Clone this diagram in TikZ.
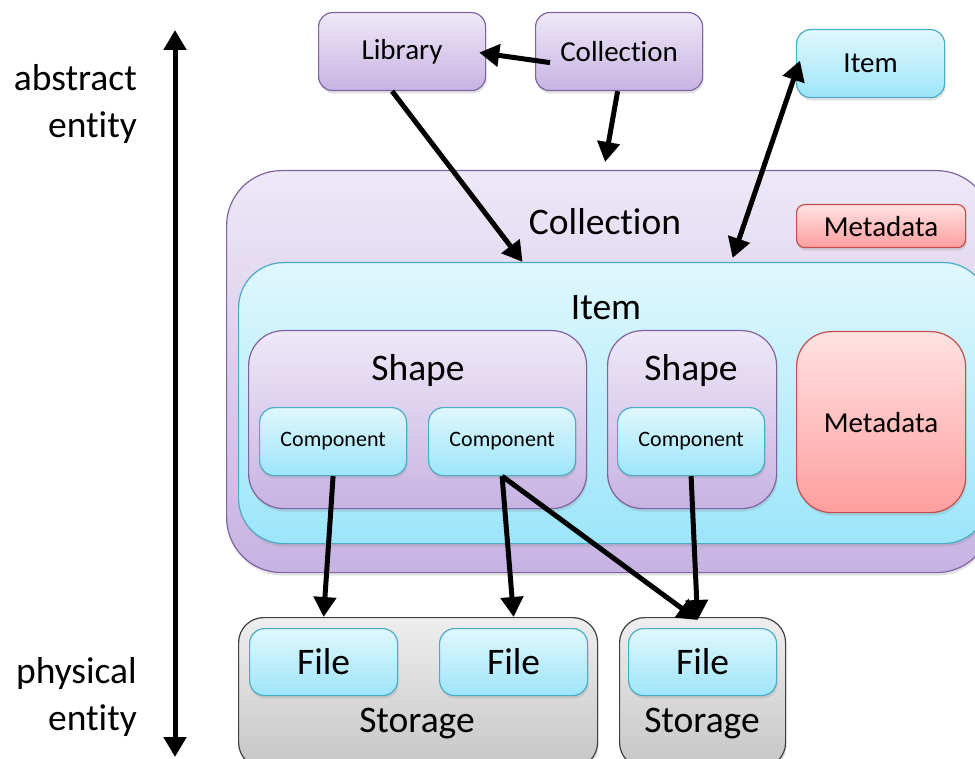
\documentclass[tikz,border=0pt]{standalone}
\usepackage{fontspec}
\setmainfont{Carlito}[Ligatures=CommonOff]
\usetikzlibrary{arrows.meta,shadows}

\definecolor{purpleline}{HTML}{8064A2}
\definecolor{purpletop}{HTML}{EEE8F7}
\definecolor{purplebot}{HTML}{C7B3E2}
\definecolor{cyanline}{HTML}{4BACC6}
\definecolor{cyantop}{HTML}{E0F7FD}
\definecolor{cyanbot}{HTML}{9DE5FA}
\definecolor{redline}{HTML}{C0504D}
\definecolor{redtop}{HTML}{FFE2E2}
\definecolor{redbot}{HTML}{FF9E9E}
\definecolor{greytop}{HTML}{EEEEEE}
\definecolor{greybot}{HTML}{C6C6C6}

\begin{document}
\begin{tikzpicture}[x=1pt,y=-1pt,>={Triangle[length=20pt,width=22pt]}]
	\tikzstyle{box}=[draw,line width=1.2pt,anchor=north west,inner sep=0pt,drop shadow={opacity=0.22,shadow xshift=1pt,shadow yshift=-3pt}]
	\tikzstyle{purple}=[box,draw=purpleline,top color=purpletop,bottom color=purplebot]
	\tikzstyle{cyan}=[box,draw=cyanline,top color=cyantop,bottom color=cyanbot]
	\tikzstyle{red}=[box,draw=redline,top color=redtop,bottom color=redbot]
	\tikzstyle{grey}=[box,draw=black!75,top color=greytop,bottom color=greybot]
	\tikzstyle{big}=[font=\fontsize{37.5}{47}\selectfont]
	\tikzstyle{mid}=[font=\fontsize{29}{35}\selectfont]
	\tikzstyle{small}=[font=\fontsize{22}{26}\selectfont]
	\tikzstyle{link}=[line width=5pt]

	\clip (0,0) rectangle (975,759);
	\useasboundingbox (0,0) rectangle (975,759);

	% axis
	\coordinate (abs) at (175,30);
	\coordinate (phys) at (175,757);
	\draw[link,<->] (abs) -- (phys);
	\node[big,anchor=base east,align=right,inner sep=0pt](abstract) at (137,138){abstract\\entity};
	\node[big,anchor=base east,align=right,inner sep=0pt](physical) at (137,730){physical\\entity};

	% top level
	\node[purple,mid,minimum width=167pt,minimum height=78pt,rounded corners=14pt](lib) at (318,12){Library};
	\node[purple,mid,minimum width=167pt,minimum height=78pt,rounded corners=14pt](ctop) at (535,12){Collection};
	\node[cyan,mid,minimum width=148pt,minimum height=68pt,rounded corners=14pt](itop) at (796,29){Item};

	% collection
	\node[purple,minimum width=765pt,minimum height=402pt,rounded corners=55pt](coll) at (226,170){};
	\node[big](colltitle) at (605,222){Collection};
	\node[red,mid,minimum width=169pt,minimum height=43pt,rounded corners=8pt](metasmall) at (796,204){Metadata};

	% item
	\node[cyan,minimum width=750pt,minimum height=281pt,rounded corners=45pt](item) at (238,262){};
	\node[big](itemtitle) at (606,308){Item};
	\node[purple,minimum width=338pt,minimum height=178pt,rounded corners=35pt](shapeA) at (248,330){};
	\node[big](shapeAtitle) at (418,371){Shape};
	\node[purple,minimum width=169pt,minimum height=178pt,rounded corners=35pt](shapeB) at (607,330){};
	\node[big](shapeBtitle) at (691,371){Shape};
	\node[red,mid,minimum width=169pt,minimum height=181pt,rounded corners=35pt](metabig) at (796,331){Metadata};

	\node[cyan,small,minimum width=147pt,minimum height=68pt,rounded corners=15pt](compA) at (259,407){Component};
	\node[cyan,small,minimum width=147pt,minimum height=68pt,rounded corners=15pt](compB) at (428,407){Component};
	\node[cyan,small,minimum width=147pt,minimum height=68pt,rounded corners=15pt](compC) at (617,407){Component};

	% storage
	\node[grey,minimum width=359pt,minimum height=150pt,rounded corners=25pt](storA) at (238,617){};
	\node[big](storAtitle) at (417,724){Storage};
	\node[grey,minimum width=166pt,minimum height=150pt,rounded corners=25pt](storB) at (619,617){};
	\node[big](storBtitle) at (702,724){Storage};

	\node[cyan,big,minimum width=148pt,minimum height=67pt,rounded corners=15pt](fileA) at (249,628){File};
	\node[cyan,big,minimum width=148pt,minimum height=67pt,rounded corners=15pt](fileB) at (439,628){File};
	\node[cyan,big,minimum width=148pt,minimum height=67pt,rounded corners=15pt](fileC) at (628,628){File};

	% links
	\draw[link,->] ([shift={(15,11)}]ctop.west) -- ([shift={(-7,1)}]lib.east);
	\draw[link,->] ([xshift=-10pt]lib.south) -- ([xshift=-91pt]item.north);
	\draw[link,->] ([xshift=-1.5pt]ctop.south) -- ([shift={(-4,-8)}]coll.north);
	\draw[link,<->] ([shift={(4,-3)}]itop.west) -- ([shift={(119,-4)}]item.north);
	\draw[link,->] (compA.south) -- ([yshift=11pt]fileA.north);
	\draw[link,->] (compB.south) -- ([yshift=11pt]fileB.north);
	\draw[link,->] (compB.south) -- ([shift={(-5,-8)}]fileC.north);
	\draw[link,->] (compC.south) -- ([shift={(-5,-8)}]fileC.north);
\end{tikzpicture}
\end{document}
